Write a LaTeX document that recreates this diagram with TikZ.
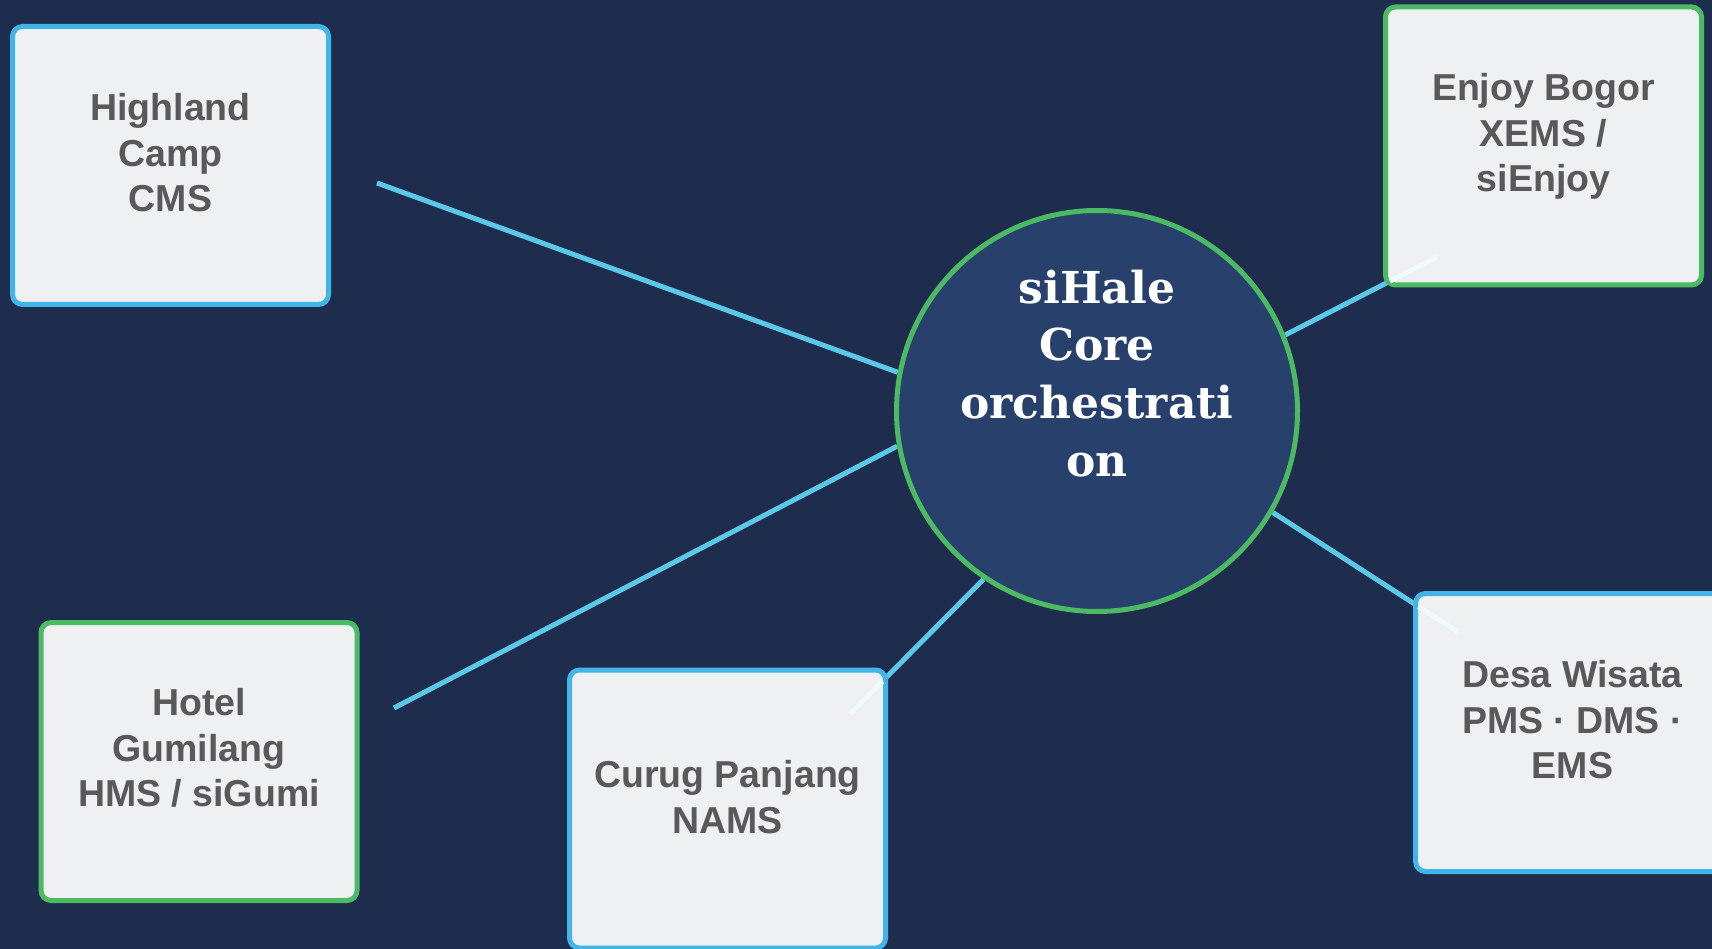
\documentclass[tikz,border=0pt]{standalone}
\usepackage{fontspec}
\setmainfont{Liberation Sans}
\newfontfamily\hubfont{DejaVu Serif}
\usetikzlibrary{calc}
\definecolor{bgnavy}{RGB}{30,45,78}
\definecolor{hubfill}{RGB}{40,64,108}
\definecolor{ringgreen}{RGB}{76,185,99}
\definecolor{ringblue}{RGB}{65,180,232}
\definecolor{boxfill}{RGB}{239,240,242}
\definecolor{textgray}{RGB}{89,89,89}
\definecolor{linecyan}{RGB}{91,200,230}
\definecolor{glintcol}{RGB}{240,249,252}
\pgfdeclarelayer{background}
\pgfsetlayers{background,main}
\begin{document}
\begin{tikzpicture}[x=1pt,y=-1pt,
  sysbox/.style={draw=#1, fill=boxfill, line width=5pt, rounded corners=10pt,
    minimum width=316pt, minimum height=278pt, inner sep=0pt},
  boxtext/.style={text=textgray, font=\bfseries\fontsize{37.5}{45.5}\selectfont,
    align=center, anchor=north, inner sep=0pt},
  hubnode/.style={circle, draw=ringgreen, fill=hubfill, line width=5pt,
    minimum size=401pt, inner sep=0pt},
  hubtext/.style={text=white, font=\hubfont\bfseries\fontsize{44}{57.7}\selectfont,
    align=center, anchor=north, inner sep=0pt},
  link/.style={draw=linecyan, line width=5pt},
  glint/.style={draw=glintcol, line width=5pt}]
\useasboundingbox (0,0) rectangle (1712,949);
\begin{pgfonlayer}{background}
\fill[bgnavy] (0,0) rectangle (1712,949);
\end{pgfonlayer}

\coordinate (hlend) at (377,183);
\coordinate (hgend) at (394,708);
\coordinate (ebin) at (1437,257);
\coordinate (cpin) at (850,714);
\coordinate (dwin) at (1458,632);

\node[hubnode] (hub) at (1097,411) {};

\node[sysbox=ringblue]  (highland) at (170.5,165.5) {};
\node[sysbox=ringgreen] (enjoy)    at (1543.5,146)  {};
\node[sysbox=ringgreen] (hotel)    at (199,761.5)   {};
\node[sysbox=ringblue]  (curug)    at (727.5,809)   {};
\node[sysbox=ringblue]  (desa)     at (1573.5,732.5) {};

\begin{pgfonlayer}{background}
\draw[link] (hub.169.2) -- (hlend);
\draw[link] (hub.190.2) -- (hgend);
\draw[link] (hub.236.3) -- (cpin);
\draw[link] (hub.22.1) -- (ebin);
\draw[link] (hub.330) -- (dwin);
\end{pgfonlayer}

\draw[glint] ($(ebin)!53pt!(hub.22.1)$) -- (ebin);
\draw[glint] ($(cpin)!46pt!(hub.236.3)$) -- (cpin);
\draw[glint] ($(dwin)!47pt!(hub.330)$) -- (dwin);

\node[hubtext] (hublabel) at (1097,269.5) {siHale\\Core\\orchestrati\\on};
\node[boxtext] (highlandlabel) at (170.5,93.5) {Highland\\Camp\\CMS};
\node[boxtext] (enjoylabel) at (1543.5,73.5) {Enjoy Bogor\\XEMS /\\siEnjoy};
\node[boxtext] (hotellabel) at (199,688.5) {Hotel\\Gumilang\\HMS / siGumi};
\node[boxtext] (curuglabel) at (727.5,760.5) {Curug Panjang\\NAMS};
\node[boxtext] (desalabel) at (1572.5,660.5) {Desa Wisata\\PMS · DMS ·\\EMS};
\end{tikzpicture}
\end{document}
